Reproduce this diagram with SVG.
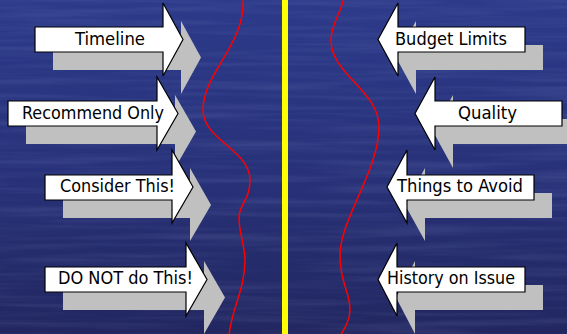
<svg xmlns="http://www.w3.org/2000/svg" width="567" height="334" viewBox="0 0 567 334">
<style>
.sh{fill:#c0c0c0;stroke:none}
.ar{fill:#ffffff;stroke:#000000;stroke-width:1.2;stroke-linejoin:miter}
.lb{font-family:"DejaVu Sans Condensed","DejaVu Sans","Liberation Sans",sans-serif;font-size:18px;fill:#000000;text-anchor:middle}
.curve{fill:none;stroke:#ff0000;stroke-width:1.5}
</style>
<defs>
<linearGradient id="bg" x1="0" y1="0" x2="0" y2="1">
<stop offset="0" stop-color="#2c3a8a"/>
<stop offset="0.5" stop-color="#28327a"/>
<stop offset="1" stop-color="#222760"/>
</linearGradient>
<filter id="tex" x="0" y="0" width="100%" height="100%">
<feTurbulence type="fractalNoise" baseFrequency="0.006 0.15" numOctaves="3" seed="7"/>
<feColorMatrix type="matrix" values="0 0 0 0 0.55  0 0 0 0 0.62  0 0 0 0 0.95  0.55 0 0 0 -0.22"/>
</filter>
</defs>
<rect x="0" y="0" width="567" height="334" fill="url(#bg)"/>
<rect x="0" y="0" width="567" height="334" filter="url(#tex)" opacity="0.4"/>
<rect x="282" y="0" width="6" height="334" fill="#ffff00"/>
<g id="connectors">
<path class="curve" d="M243,-2 C246,45 203,72 203,110 C203,140 250,150 250,180 C250,200 239,205 239,217 C239,235 245,245 245,260 C245,290 231,310 229,336"/>
<path class="curve" d="M344,-2 C340,15 331,25 331,40 C331,75 379,90 379,127 C379,170 340,220 340,255 C340,285 350,290 350,310 C350,320 345,328 340,336"/>
</g>
<g id="shadows">
<polygon class="sh" points="53,45 181,45 181,21 201,57.5 181,94 181,70 53,70"/>
<polygon class="sh" points="26,119 175,119 175,95 196,131.5 175,168 175,144 26,144"/>
<polygon class="sh" points="63,193 190,193 190,168 211,205 190,241 190,218 63,218"/>
<polygon class="sh" points="63,285 204,285 204,261 225,297.5 204,334 204,310 63,310"/>
<polygon class="sh" points="543,45 416,45 416,21 396,57.5 416,94 416,70 543,70"/>
<polygon class="sh" points="580,119 453,119 453,95 433,131.5 453,168 453,144 580,144"/>
<polygon class="sh" points="552,193 425,193 425,168 405,205 425,241 425,218 552,218"/>
<polygon class="sh" points="543,285 415,285 415,261 396,297.5 415,334 415,310 543,310"/>
</g>
<g id="timeline">
<polygon class="ar" points="35,27 163,27 163,3 183,39.5 163,76 163,52 35,52"/>
<text class="lb" x="110" y="45" textLength="70" lengthAdjust="spacingAndGlyphs">Timeline</text>
</g>
<g id="recommend">
<polygon class="ar" points="8,101 157,101 157,77 178,113.5 157,150 157,126 8,126"/>
<text class="lb" x="93" y="119" textLength="142" lengthAdjust="spacingAndGlyphs">Recommend Only</text>
</g>
<g id="consider">
<polygon class="ar" points="45,175 172,175 172,150 193,187 172,223 172,200 45,200"/>
<text class="lb" x="117.5" y="192" textLength="115" lengthAdjust="spacingAndGlyphs">Consider This!</text>
</g>
<g id="donot">
<polygon class="ar" points="45,267 186,267 186,243 207,279.5 186,316 186,292 45,292"/>
<text class="lb" x="125.5" y="284" textLength="135" lengthAdjust="spacingAndGlyphs">DO NOT do This!</text>
</g>
<g id="budget">
<polygon class="ar" points="525,27 398,27 398,3 378,39.5 398,76 398,52 525,52"/>
<text class="lb" x="451" y="44.5" textLength="112" lengthAdjust="spacingAndGlyphs">Budget Limits</text>
</g>
<g id="quality">
<polygon class="ar" points="562,101 435,101 435,77 415,113.5 435,150 435,126 562,126"/>
<text class="lb" x="487.5" y="119" textLength="59" lengthAdjust="spacingAndGlyphs">Quality</text>
</g>
<g id="avoid">
<polygon class="ar" points="534,175 407,175 407,150 387,187 407,223 407,200 534,200"/>
<text class="lb" x="460" y="192" textLength="126" lengthAdjust="spacingAndGlyphs">Things to Avoid</text>
</g>
<g id="history">
<polygon class="ar" points="525,267 397,267 397,243 378,279.5 397,316 397,292 525,292"/>
<text class="lb" x="451" y="284" textLength="128" lengthAdjust="spacingAndGlyphs">History on Issue</text>
</g>
</svg>
